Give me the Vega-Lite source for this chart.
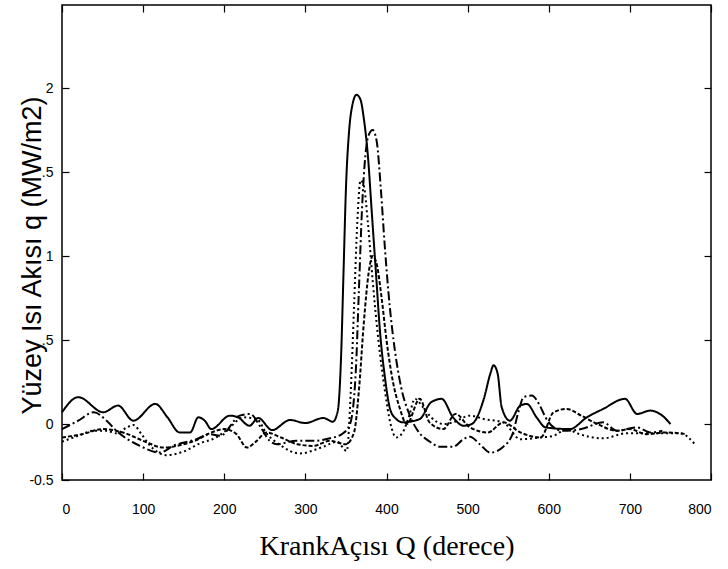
{
  "$schema": "https://vega.github.io/schema/vega-lite/v6.json",
  "width": 649,
  "height": 475,
  "autosize": {"type": "none"},
  "padding": {"left": 62, "top": 5, "right": 17, "bottom": 89},
  "background": "white",
  "config": {
    "view": {"stroke": "black", "strokeWidth": 1.5},
    "axis": {"grid": false, "domain": false, "tickColor": "black", "labelColor": "black", "titleColor": "black", "labelFont": "Liberation Sans", "labelFontSize": 14, "tickWidth": 1.2}
  },
  "data": {"values": [
    {"s":"A","x":0,"y":0.07},{"s":"A","x":20,"y":0.16},{"s":"A","x":51,"y":0.07},{"s":"A","x":69,"y":0.11},{"s":"A","x":88,"y":0.02},{"s":"A","x":115,"y":0.12},{"s":"A","x":130,"y":0.04},{"s":"A","x":145,"y":-0.05},{"s":"A","x":158,"y":-0.05},{"s":"A","x":168,"y":0.04},{"s":"A","x":176,"y":0.02},{"s":"A","x":184,"y":-0.03},{"s":"A","x":207,"y":0.05},{"s":"A","x":217,"y":0.04},{"s":"A","x":231,"y":-0.01},{"s":"A","x":242,"y":0.036},{"s":"A","x":259,"y":-0.036},{"s":"A","x":281,"y":0.024},{"s":"A","x":300,"y":0.006},{"s":"A","x":322,"y":0.036},{"s":"A","x":334,"y":0.014},{"s":"A","x":340,"y":0.08},{"s":"A","x":344,"y":0.4},{"s":"A","x":347,"y":0.9},{"s":"A","x":350,"y":1.4},{"s":"A","x":354,"y":1.75},{"s":"A","x":358,"y":1.9},{"s":"A","x":363,"y":1.96},{"s":"A","x":368,"y":1.93},{"s":"A","x":372,"y":1.82},{"s":"A","x":377,"y":1.6},{"s":"A","x":382,"y":1.25},{"s":"A","x":387,"y":0.9},{"s":"A","x":392,"y":0.55},{"s":"A","x":398,"y":0.28},{"s":"A","x":405,"y":0.08},{"s":"A","x":412,"y":0.03},{"s":"A","x":420,"y":0.01},{"s":"A","x":441,"y":0.03},{"s":"A","x":455,"y":0.13},{"s":"A","x":468,"y":0.15},{"s":"A","x":482,"y":0.04},{"s":"A","x":495,"y":-0.01},{"s":"A","x":505,"y":0.0},{"s":"A","x":520,"y":0.15},{"s":"A","x":528,"y":0.3},{"s":"A","x":532,"y":0.35},{"s":"A","x":537,"y":0.3},{"s":"A","x":542,"y":0.1},{"s":"A","x":552,"y":0.02},{"s":"A","x":565,"y":0.11},{"s":"A","x":573,"y":0.12},{"s":"A","x":585,"y":0.04},{"s":"A","x":596,"y":-0.02},{"s":"A","x":626,"y":-0.03},{"s":"A","x":647,"y":0.04},{"s":"A","x":667,"y":0.09},{"s":"A","x":694,"y":0.15},{"s":"A","x":709,"y":0.06},{"s":"A","x":725,"y":0.08},{"s":"A","x":740,"y":0.05},{"s":"A","x":750,"y":0.0},

    {"s":"B","x":0,"y":-0.03},{"s":"B","x":20,"y":0.02},{"s":"B","x":39,"y":0.07},{"s":"B","x":55,"y":0.02},{"s":"B","x":67,"y":-0.04},{"s":"B","x":96,"y":-0.13},{"s":"B","x":121,"y":-0.17},{"s":"B","x":137,"y":-0.13},{"s":"B","x":166,"y":-0.09},{"s":"B","x":182,"y":-0.06},{"s":"B","x":195,"y":-0.07},{"s":"B","x":219,"y":0.05},{"s":"B","x":232,"y":0.06},{"s":"B","x":245,"y":-0.02},{"s":"B","x":256,"y":-0.1},{"s":"B","x":265,"y":-0.12},{"s":"B","x":289,"y":-0.1},{"s":"B","x":310,"y":-0.1},{"s":"B","x":330,"y":-0.085},{"s":"B","x":345,"y":-0.06},{"s":"B","x":355,"y":0.0},{"s":"B","x":362,"y":0.3},{"s":"B","x":366,"y":0.8},{"s":"B","x":370,"y":1.3},{"s":"B","x":374,"y":1.6},{"s":"B","x":378,"y":1.72},{"s":"B","x":383,"y":1.75},{"s":"B","x":388,"y":1.68},{"s":"B","x":393,"y":1.4},{"s":"B","x":398,"y":1.05},{"s":"B","x":404,"y":0.7},{"s":"B","x":410,"y":0.45},{"s":"B","x":418,"y":0.22},{"s":"B","x":428,"y":0.06},{"s":"B","x":440,"y":-0.05},{"s":"B","x":452,"y":-0.1},{"s":"B","x":466,"y":-0.135},{"s":"B","x":482,"y":-0.135},{"s":"B","x":495,"y":-0.09},{"s":"B","x":503,"y":-0.075},{"s":"B","x":515,"y":-0.12},{"s":"B","x":528,"y":-0.17},{"s":"B","x":544,"y":-0.135},{"s":"B","x":556,"y":-0.05},{"s":"B","x":563,"y":0.08},{"s":"B","x":569,"y":0.16},{"s":"B","x":579,"y":0.17},{"s":"B","x":589,"y":0.11},{"s":"B","x":596,"y":0.04},{"s":"B","x":606,"y":-0.02},{"s":"B","x":618,"y":-0.04},{"s":"B","x":640,"y":-0.03},{"s":"B","x":667,"y":0.01},{"s":"B","x":684,"y":-0.04},{"s":"B","x":709,"y":-0.02},{"s":"B","x":725,"y":-0.05},{"s":"B","x":740,"y":-0.04},

    {"s":"C","x":0,"y":-0.105},{"s":"C","x":20,"y":-0.07},{"s":"C","x":39,"y":-0.04},{"s":"C","x":55,"y":-0.04},{"s":"C","x":67,"y":-0.055},{"s":"C","x":80,"y":-0.02},{"s":"C","x":88,"y":-0.006},{"s":"C","x":98,"y":-0.06},{"s":"C","x":108,"y":-0.125},{"s":"C","x":129,"y":-0.185},{"s":"C","x":149,"y":-0.165},{"s":"C","x":170,"y":-0.115},{"s":"C","x":190,"y":-0.08},{"s":"C","x":207,"y":-0.02},{"s":"C","x":223,"y":0.04},{"s":"C","x":240,"y":0.03},{"s":"C","x":252,"y":-0.055},{"s":"C","x":269,"y":-0.125},{"s":"C","x":293,"y":-0.175},{"s":"C","x":322,"y":-0.135},{"s":"C","x":339,"y":-0.105},{"s":"C","x":351,"y":-0.16},{"s":"C","x":356,"y":0.2},{"s":"C","x":360,"y":0.7},{"s":"C","x":364,"y":1.2},{"s":"C","x":368,"y":1.45},{"s":"C","x":372,"y":1.42},{"s":"C","x":377,"y":1.2},{"s":"C","x":383,"y":0.85},{"s":"C","x":390,"y":0.5},{"s":"C","x":398,"y":0.2},{"s":"C","x":405,"y":0.0},{"s":"C","x":412,"y":-0.08},{"s":"C","x":420,"y":-0.05},{"s":"C","x":428,"y":0.05},{"s":"C","x":435,"y":0.15},{"s":"C","x":445,"y":0.1},{"s":"C","x":455,"y":0.04},{"s":"C","x":470,"y":0.0},{"s":"C","x":482,"y":0.01},{"s":"C","x":503,"y":0.05},{"s":"C","x":520,"y":0.03},{"s":"C","x":544,"y":0.01},{"s":"C","x":565,"y":-0.09},{"s":"C","x":590,"y":-0.08},{"s":"C","x":606,"y":-0.07},{"s":"C","x":622,"y":-0.03},{"s":"C","x":635,"y":-0.055},{"s":"C","x":667,"y":-0.085},{"s":"C","x":696,"y":-0.055},{"s":"C","x":729,"y":-0.055},{"s":"C","x":762,"y":-0.055},{"s":"C","x":781,"y":-0.125},

    {"s":"D","x":0,"y":-0.08},{"s":"D","x":25,"y":-0.06},{"s":"D","x":50,"y":-0.03},{"s":"D","x":75,"y":-0.05},{"s":"D","x":100,"y":-0.1},{"s":"D","x":125,"y":-0.14},{"s":"D","x":150,"y":-0.12},{"s":"D","x":166,"y":-0.095},{"s":"D","x":182,"y":-0.055},{"s":"D","x":200,"y":-0.03},{"s":"D","x":215,"y":-0.06},{"s":"D","x":228,"y":-0.14},{"s":"D","x":240,"y":-0.1},{"s":"D","x":252,"y":-0.05},{"s":"D","x":270,"y":-0.08},{"s":"D","x":290,"y":-0.12},{"s":"D","x":310,"y":-0.13},{"s":"D","x":330,"y":-0.1},{"s":"D","x":350,"y":-0.12},{"s":"D","x":360,"y":-0.05},{"s":"D","x":366,"y":0.2},{"s":"D","x":372,"y":0.6},{"s":"D","x":378,"y":0.9},{"s":"D","x":383,"y":1.0},{"s":"D","x":388,"y":0.95},{"s":"D","x":394,"y":0.75},{"s":"D","x":400,"y":0.5},{"s":"D","x":408,"y":0.25},{"s":"D","x":416,"y":0.1},{"s":"D","x":425,"y":0.0},{"s":"D","x":441,"y":0.15},{"s":"D","x":453,"y":0.01},{"s":"D","x":470,"y":-0.03},{"s":"D","x":485,"y":0.06},{"s":"D","x":503,"y":-0.02},{"s":"D","x":525,"y":-0.05},{"s":"D","x":544,"y":0.01},{"s":"D","x":565,"y":-0.05},{"s":"D","x":590,"y":-0.08},{"s":"D","x":606,"y":0.07},{"s":"D","x":622,"y":0.09},{"s":"D","x":640,"y":0.05},{"s":"D","x":660,"y":0.0},{"s":"D","x":684,"y":-0.04},{"s":"D","x":700,"y":-0.03},{"s":"D","x":720,"y":-0.06},{"s":"D","x":745,"y":-0.05},{"s":"D","x":770,"y":-0.06}
  ]},
  "layer": [
    {
      "mark": {"type": "line", "color": "black", "strokeWidth": 2, "interpolate": "monotone"},
      "encoding": {
        "x": {"field": "x", "type": "quantitative", "scale": {"domain": [0, 800], "nice": false, "zero": false},
          "axis": {"values": [0,100,200,300,400,500,600,700,800], "tickSize": -7, "labelPadding": 29, "title": "KrankAçısı Q (derece)", "titleFont": "Liberation Serif", "titleFontSize": 28, "titleFontWeight": "normal", "titlePadding": 16}},
        "y": {"field": "y", "type": "quantitative", "scale": {"domain": [-0.333, 2.494], "nice": false, "zero": false},
          "axis": {"values": [-0.333, 0, 0.5, 1, 1.5, 2], "labelExpr": "datum.value < -0.3 ? '-0.5' : (datum.value == 0.5 || datum.value == 1.5 ? '.5' : format(datum.value, ''))", "tickSize": -7, "labelPadding": 16, "title": "Yüzey Isı Akısı q (MW/m2)", "titleFont": "Liberation Sans", "titleFontSize": 27, "titleFontWeight": "normal", "titleX": -30, "titleY": 250, "titleAngle": -90, "titleBaseline": "middle", "titleAlign": "center"}},
        "detail": {"field": "s", "type": "nominal"},
        "strokeDash": {"field": "s", "type": "nominal", "legend": null,
          "scale": {"domain": ["A","B","C","D"], "range": [[1,0],[9,3,2,3],[2,3],[4,2]]}}
      }
    },
    {
      "mark": {"type": "line", "opacity": 0},
      "encoding": {
        "x": {"field": "x", "type": "quantitative", "axis": {"orient": "top", "values": [0,100,200,300,400,500,600,700,800], "labels": false, "tickSize": -7, "title": null}},
        "y": {"field": "y", "type": "quantitative", "axis": {"orient": "right", "values": [0, 0.5, 1, 1.5, 2], "labels": false, "tickSize": -7, "title": null}},
        "detail": {"field": "s", "type": "nominal"}
      }
    }
  ],
  "resolve": {"axis": {"x": "independent", "y": "independent"}}
}
